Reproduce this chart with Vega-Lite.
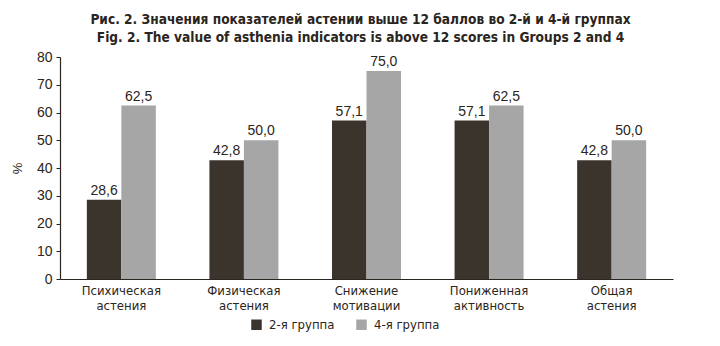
{
  "$schema": "https://vega.github.io/schema/vega-lite/v6.json",
  "autosize": "none",
  "width": 613,
  "height": 222,
  "padding": {"left": 60, "top": 57, "right": 47, "bottom": 67},
  "background": "white",
  "config": {
    "view": {"stroke": null},
    "locale": {"number": {"decimal": ",", "thousands": " ", "grouping": [3], "currency": ["", ""]}},
    "font": "Liberation Sans"
  },
  "title": {
    "text": ["Рис. 2. Значения показателей астении выше 12 баллов во 2-й и 4-й группах", "Fig. 2. The value of asthenia indicators is above 12 scores in Groups 2 and 4"],
    "font": "DejaVu Sans Condensed, Roboto",
    "fontSize": 13.6,
    "fontWeight": "bold",
    "color": "#2b2520",
    "anchor": "middle",
    "frame": "group",
    "dx": -6,
    "lineHeight": 18,
    "offset": 5
  },
  "data": {
    "values": [
      {"category": "Психическая астения", "group": "2-я группа", "value": 28.6},
      {"category": "Психическая астения", "group": "4-я группа", "value": 62.5},
      {"category": "Физическая астения", "group": "2-я группа", "value": 42.8},
      {"category": "Физическая астения", "group": "4-я группа", "value": 50.0},
      {"category": "Снижение мотивации", "group": "2-я группа", "value": 57.1},
      {"category": "Снижение мотивации", "group": "4-я группа", "value": 75.0},
      {"category": "Пониженная активность", "group": "2-я группа", "value": 57.1},
      {"category": "Пониженная активность", "group": "4-я группа", "value": 62.5},
      {"category": "Общая астения", "group": "2-я группа", "value": 42.8},
      {"category": "Общая астения", "group": "4-я группа", "value": 50.0}
    ]
  },
  "encoding": {
    "x": {
      "field": "category",
      "type": "nominal",
      "sort": null,
      "scale": {"paddingInner": 0.437, "paddingOuter": 0.219},
      "axis": {
        "title": null,
        "labelAngle": 0,
        "labelExpr": "split(datum.label, ' ')",
        "labelFont": "DejaVu Sans Condensed, Roboto",
        "labelFontSize": 13,
        "labelColor": "#2b2520",
        "labelPadding": 5,
        "labelLineHeight": 15,
        "ticks": false,
        "domainColor": "#2b2520",
        "domainWidth": 1.2
      }
    },
    "xOffset": {"field": "group", "type": "nominal", "scale": {"paddingInner": 0}},
    "y": {
      "field": "value",
      "type": "quantitative",
      "scale": {"domain": [0, 80], "nice": false},
      "axis": {
        "title": "%",
        "titleFont": "Liberation Sans",
        "titleFontWeight": "normal",
        "titleFontSize": 13,
        "titleColor": "#2b2520",
        "titlePadding": 12,
        "values": [0, 10, 20, 30, 40, 50, 60, 70, 80],
        "format": "d",
        "grid": false,
        "labelFontSize": 14,
        "labelColor": "#2b2520",
        "labelPadding": 4,
        "tickSize": 4,
        "tickColor": "#2b2520",
        "domainColor": "#2b2520",
        "domainWidth": 1.2
      }
    }
  },
  "layer": [
    {
      "mark": {"type": "bar"},
      "encoding": {
        "color": {
          "field": "group",
          "type": "nominal",
          "scale": {"range": ["#3b342c", "#a6a6a6"]},
          "legend": {
            "title": null,
            "orient": "none",
            "direction": "horizontal",
            "legendX": 190,
            "legendY": 261,
            "symbolType": "square",
            "symbolSize": 110,
            "symbolStrokeWidth": 0,
            "labelFont": "DejaVu Sans Condensed, Roboto",
            "labelFontSize": 13,
            "labelColor": "#2b2520",
            "columnPadding": 20,
            "labelOffset": 6
          }
        }
      }
    },
    {
      "mark": {"type": "text", "baseline": "bottom", "dy": -2, "fontSize": 14, "color": "#2b2520"},
      "encoding": {
        "text": {"field": "value", "type": "quantitative", "format": ".1f"}
      }
    }
  ]
}
